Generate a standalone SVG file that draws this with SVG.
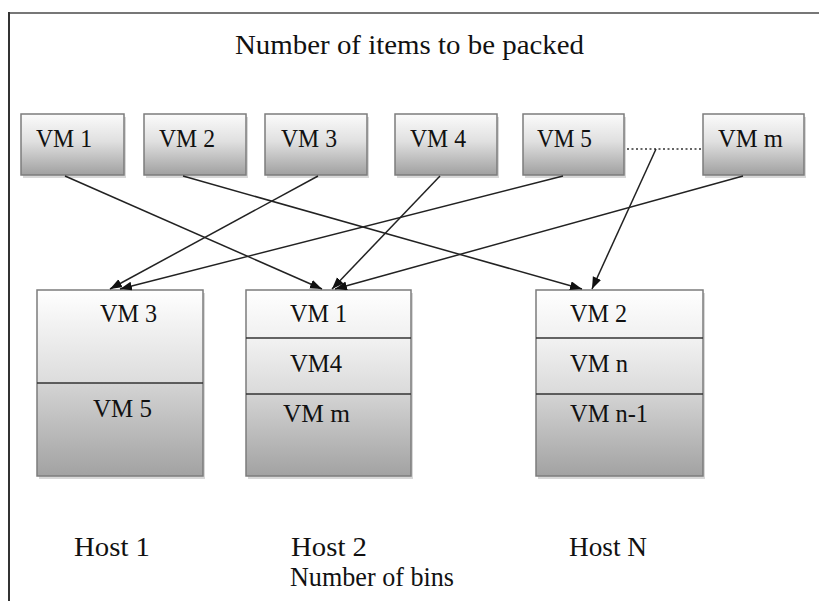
<svg xmlns="http://www.w3.org/2000/svg" width="819" height="601" viewBox="0 0 819 601">
  <defs>
    <linearGradient id="vmFill" x1="0" y1="0" x2="0" y2="1">
      <stop offset="0" stop-color="#fbfbfb"/>
      <stop offset="0.45" stop-color="#e0e0e0"/>
      <stop offset="1" stop-color="#a0a0a0"/>
    </linearGradient>
    <linearGradient id="topSlot" x1="0" y1="0" x2="0" y2="1">
      <stop offset="0" stop-color="#ffffff"/>
      <stop offset="1" stop-color="#f0f0f0"/>
    </linearGradient>
    <linearGradient id="tallSlot" x1="0" y1="0" x2="0" y2="1">
      <stop offset="0" stop-color="#ffffff"/>
      <stop offset="1" stop-color="#dcdcdc"/>
    </linearGradient>
    <linearGradient id="midSlot" x1="0" y1="0" x2="0" y2="1">
      <stop offset="0" stop-color="#f2f2f2"/>
      <stop offset="1" stop-color="#dadada"/>
    </linearGradient>
    <linearGradient id="lowSlot" x1="0" y1="0" x2="0" y2="1">
      <stop offset="0" stop-color="#d4d4d4"/>
      <stop offset="1" stop-color="#a2a2a2"/>
    </linearGradient>
    <marker id="arrow" markerUnits="userSpaceOnUse" markerWidth="13" markerHeight="10" refX="12" refY="4.5" orient="auto">
      <path d="M0,0 L12,4.5 L0,9 z" fill="#111"/>
    </marker>
  </defs>
  <style>
    .lbl { font-family: "Liberation Serif", "Times New Roman", serif; fill: #111; }
    .vm { font-size: 26px; }
    .slot { font-size: 25px; }
    .cap { font-size: 27px; }
    .box { fill: url(#vmFill); stroke: #7c7c7c; stroke-width: 1.5; }
    .shadow { fill: #d8d8d8; }
    .bin { fill: none; stroke: #7c7c7c; stroke-width: 1.5; }
    .div { stroke: #333; stroke-width: 1.5; }
    .edge { stroke: #222; stroke-width: 1.5; fill: none; marker-end: url(#arrow); }
  </style>

  <rect x="0" y="0" width="819" height="601" fill="#ffffff"/>

  <!-- frame -->
  <line x1="9" y1="13" x2="819" y2="13" stroke="#777" stroke-width="2"/>
  <line x1="9" y1="12" x2="9" y2="601" stroke="#333" stroke-width="2"/>

  <text class="lbl cap" x="235" y="54" textLength="349" lengthAdjust="spacingAndGlyphs">Number of items to be packed</text>

  <!-- items -->
  <g id="vm1">
    <rect class="shadow" x="23" y="117" width="103" height="61"/>
    <rect class="box" x="21" y="114" width="103" height="61"/>
    <text class="lbl vm" x="36" y="147" textLength="56" lengthAdjust="spacingAndGlyphs">VM 1</text>
  </g>
  <g id="vm2">
    <rect class="shadow" x="146" y="117" width="102" height="61"/>
    <rect class="box" x="144" y="114" width="102" height="61"/>
    <text class="lbl vm" x="159" y="147" textLength="56" lengthAdjust="spacingAndGlyphs">VM 2</text>
  </g>
  <g id="vm3">
    <rect class="shadow" x="267" y="117" width="102" height="61"/>
    <rect class="box" x="265" y="114" width="102" height="61"/>
    <text class="lbl vm" x="281" y="147" textLength="56" lengthAdjust="spacingAndGlyphs">VM 3</text>
  </g>
  <g id="vm4">
    <rect class="shadow" x="397" y="117" width="102" height="61"/>
    <rect class="box" x="395" y="114" width="102" height="61"/>
    <text class="lbl vm" x="410" y="147" textLength="56" lengthAdjust="spacingAndGlyphs">VM 4</text>
  </g>
  <g id="vm5">
    <rect class="shadow" x="525" y="117" width="101" height="61"/>
    <rect class="box" x="523" y="114" width="101" height="61"/>
    <text class="lbl vm" x="537" y="147" textLength="55" lengthAdjust="spacingAndGlyphs">VM 5</text>
  </g>
  <g id="vmm">
    <rect class="shadow" x="705" y="117" width="101" height="61"/>
    <rect class="box" x="703" y="114" width="101" height="61"/>
    <text class="lbl vm" x="718" y="147" textLength="65" lengthAdjust="spacingAndGlyphs">VM m</text>
  </g>

  <!-- bins -->
  <g id="host1">
    <rect class="shadow" x="39" y="293" width="166" height="186"/>
    <rect x="37" y="290" width="166" height="93" fill="url(#tallSlot)"/>
    <rect x="37" y="383" width="166" height="93" fill="url(#lowSlot)"/>
    <rect class="bin" x="37" y="290" width="166" height="186"/>
    <line class="div" x1="37" y1="383" x2="203" y2="383"/>
    <text class="lbl slot" x="100" y="322" textLength="57" lengthAdjust="spacingAndGlyphs">VM 3</text>
    <text class="lbl slot" x="93" y="417" textLength="59" lengthAdjust="spacingAndGlyphs">VM 5</text>
    <text class="lbl cap" x="74" y="556" textLength="76" lengthAdjust="spacingAndGlyphs">Host 1</text>
  </g>
  <g id="host2">
    <rect class="shadow" x="248" y="293" width="165" height="186"/>
    <rect x="246" y="290" width="165" height="48" fill="url(#topSlot)"/>
    <rect x="246" y="338" width="165" height="56" fill="url(#midSlot)"/>
    <rect x="246" y="394" width="165" height="82" fill="url(#lowSlot)"/>
    <rect class="bin" x="246" y="290" width="165" height="186"/>
    <line class="div" x1="246" y1="338" x2="411" y2="338"/>
    <line class="div" x1="246" y1="394" x2="411" y2="394"/>
    <text class="lbl slot" x="290" y="322" textLength="57" lengthAdjust="spacingAndGlyphs">VM 1</text>
    <text class="lbl slot" x="290" y="372" textLength="52" lengthAdjust="spacingAndGlyphs">VM4</text>
    <text class="lbl slot" x="283" y="422" textLength="67" lengthAdjust="spacingAndGlyphs">VM m</text>
    <text class="lbl cap" x="291" y="556" textLength="76" lengthAdjust="spacingAndGlyphs">Host 2</text>
  </g>
  <g id="hostN">
    <rect class="shadow" x="538" y="293" width="167" height="186"/>
    <rect x="536" y="290" width="167" height="48" fill="url(#topSlot)"/>
    <rect x="536" y="338" width="167" height="56" fill="url(#midSlot)"/>
    <rect x="536" y="394" width="167" height="82" fill="url(#lowSlot)"/>
    <rect class="bin" x="536" y="290" width="167" height="186"/>
    <line class="div" x1="536" y1="338" x2="703" y2="338"/>
    <line class="div" x1="536" y1="394" x2="703" y2="394"/>
    <text class="lbl slot" x="570" y="322" textLength="57" lengthAdjust="spacingAndGlyphs">VM 2</text>
    <text class="lbl slot" x="570" y="372" textLength="58" lengthAdjust="spacingAndGlyphs">VM n</text>
    <text class="lbl slot" x="570" y="422" textLength="78" lengthAdjust="spacingAndGlyphs">VM n-1</text>
    <text class="lbl cap" x="569" y="556" textLength="78" lengthAdjust="spacingAndGlyphs">Host N</text>
  </g>

  <text class="lbl cap" x="290" y="586" textLength="164" lengthAdjust="spacingAndGlyphs">Number of bins</text>

  <!-- assignments of items to bins -->
  <g id="connectors">
    <line x1="627" y1="149" x2="702" y2="149" stroke="#333" stroke-width="1.5" stroke-dasharray="2,2.5"/>
    <line class="edge" x1="65" y1="176" x2="322" y2="289"/>
    <line class="edge" x1="183" y1="176" x2="582" y2="289"/>
    <line class="edge" x1="318" y1="176" x2="110" y2="289"/>
    <line class="edge" x1="440" y1="176" x2="332" y2="289"/>
    <line class="edge" x1="563" y1="176" x2="120" y2="289"/>
    <line class="edge" x1="743" y1="176" x2="335" y2="289"/>
    <line class="edge" x1="656" y1="149" x2="592" y2="289"/>
  </g>
</svg>
